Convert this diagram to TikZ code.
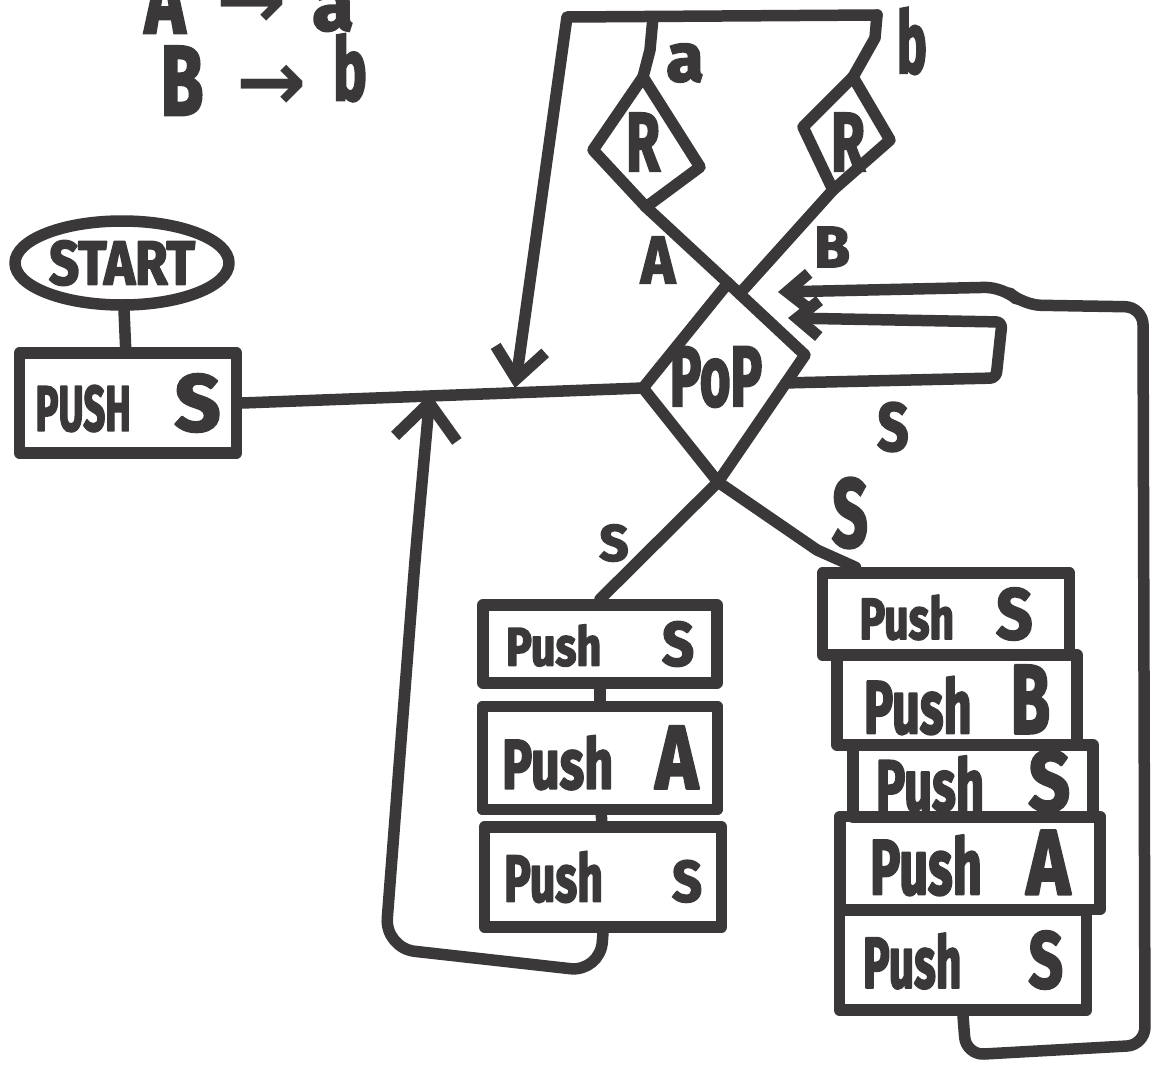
\documentclass[tikz,border=0pt]{standalone}
\usepackage{fontspec}
\usepackage{graphicx}
\setmainfont{Fira Sans}[BoldFeatures={FakeBold=3}]
\newfontfamily\arrfont{DejaVu Sans}
\usetikzlibrary{arrows.meta,shapes.geometric,calc}
\definecolor{ink}{RGB}{58,56,56}
\newcommand{\nar}[2][0.75]{\scalebox{#1}[1]{#2}}
\newcommand{\btext}[3]{\makebox[#1]{#2\hfill#3}}
\newcommand{\hwt}[3]{{\fontsize{#1}{#1}\selectfont\bfseries\scalebox{#2}[1]{#3}}}
\begin{document}
\begin{tikzpicture}[x=1pt,y=-1pt,
  ln/.style={draw=ink, line width=11.5pt, line cap=round, line join=round},
  hw/.style={text=ink, inner sep=0pt},
  pbox/.style={ln, rectangle, inner sep=0pt, text=ink},
  tipbig/.style={-{Straight Barb[length=36pt,width=62pt]}},
  tipmid/.style={-{Straight Barb[length=30pt,width=50pt]}},
  tipsm/.style={-{Straight Barb[length=22pt,width=36pt]}},
]
\useasboundingbox (0,0) rectangle (1162,1076);
\fill[white] (0,0) rectangle (1162,1076);

% ---- heading rules
\node[hw, anchor=base] (hA) at (165,33) {\hwt{95}{0.72}{A}};
\node[hw] (harA) at (252,6) {\fontsize{84}{84}\selectfont\arrfont\bfseries →};
\node[hw, anchor=base] (ha) at (333,30) {\hwt{75}{1}{a}};
\node[hw, anchor=base] (hB) at (182,115) {\hwt{99}{0.7}{B}};
\node[hw] (harB) at (272,88) {\fontsize{84}{84}\selectfont\arrfont\bfseries →};
\node[hw, anchor=base] (hb) at (350,100) {\hwt{87}{0.65}{b}};

% ---- start
\node[ln, ellipse, minimum width=214pt, minimum height=84pt, inner sep=0pt, text=ink] (start) at (122,263) {\hwt{62}{0.85}{START}};
\node[pbox, minimum width=217pt, minimum height=100pt] (p0) at (128,403)
  {\btext{185pt}{\hwt{64}{0.6}{PUSH}}{\hwt{80}{1}{S}}};
\draw[ln] (start) -- (p0);

% ---- POP diamond
\coordinate (popT) at (728,283);
\coordinate (popR) at (805,355);
\coordinate (popB) at (718,482);
\coordinate (popL) at (643,388);
\draw[ln] (popT) -- (popR) -- (popB) -- (popL) -- cycle;
\node[hw] (pop) at (716,377) {\hwt{85}{0.62}{PoP}};

% ---- main line
\draw[ln] (p0.east) -- (popL);
\coordinate (jdown) at (515,388);
\coordinate (jup) at (430,394);

% ---- top frame and R diamonds
\coordinate (tl) at (567,17);
\coordinate (ta) at (653,17);
\coordinate (tr) at (877,15);
\draw[ln, tipmid] (tr) -- (tl) -- (jdown);

\coordinate (rLt) at (643,77);
\coordinate (rLl) at (593,150);
\coordinate (rLb) at (646,207);
\coordinate (rLr) at (700,167);
\draw[ln] (rLt) -- (rLl) -- (rLb) -- (rLr) -- cycle;
\node[hw] (rL) at (643,142) {\hwt{83}{0.66}{R}};

\coordinate (rRt) at (853,77);
\coordinate (rRl) at (803,127);
\coordinate (rRb) at (833,190);
\coordinate (rRr) at (890,140);
\draw[ln] (rRt) -- (rRl) -- (rRb) -- (rRr) -- cycle;
\node[hw] (rR) at (848,142) {\hwt{83}{0.66}{R}};

\draw[ln] (ta) -- (650,50) -- (rLt);
\draw[ln] (tr) -- (875,38) -- (rRt);
\node[hw] (la) at (685,63) {\hwt{68}{1}{a}};
\node[hw] (lb) at (912,41) {\hwt{86}{0.58}{b}};

\draw[ln] (rLb) -- (popT);
\draw[ln] (rRb) -- ($(popT)!0.15!(popR)$);
\node[hw] (lA) at (658,260) {\hwt{67}{0.86}{A}};
\node[hw] (lB) at (832,247) {\hwt{58}{1}{B}};

% ---- left stack
\node[pbox, minimum width=234pt, minimum height=78pt] (l1) at (600,644)
  {\btext{188pt}{\hwt{54}{0.8}{Push}}{\hwt{62}{0.9}{S}}};
\node[pbox, minimum width=235pt, minimum height=103pt] (l2) at (600,758)
  {\btext{196pt}{\hwt{70}{0.72}{Push}}{\hwt{90}{0.8}{A}}};
\node[pbox, minimum width=237pt, minimum height=100pt] (l3) at (603,877)
  {\btext{198pt}{\hwt{66}{0.68}{Push}}{\hwt{58}{0.9}{S}}};
\draw[ln] (l1) -- (l2);
\draw[ln] (l2) -- (l3);

% ---- right stack
\node[pbox, minimum width=247pt, minimum height=82pt] (r1) at (946,614)
  {\btext{173pt}{\hwt{58}{0.74}{Push}}{\hwt{72}{0.88}{S}}};
\node[pbox, minimum width=240pt, minimum height=90pt] (r2) at (957,700)
  {\btext{186pt}{\hwt{75}{0.65}{Push}}{\hwt{98}{0.65}{B}}};
\node[pbox, minimum width=240pt, minimum height=72pt] (r3) at (973,781)
  {\btext{194pt}{\hwt{72}{0.68}{Push}}{\hwt{85}{0.85}{S}}};
\node[pbox, minimum width=260pt, minimum height=93pt] (r4) at (970,863)
  {\btext{200pt}{\hwt{78}{0.65}{Push}}{\hwt{92}{0.8}{A}}};
\node[pbox, minimum width=247pt, minimum height=100pt] (r5) at (963,960)
  {\btext{200pt}{\hwt{72}{0.62}{Push}}{\hwt{80}{0.75}{S}}};

% ---- branches from POP bottom
\draw[ln] (popB) -- (l1.north);
\draw[ln] (popB) -- (817,550) -- ($(r1.north west)!0.15!(r1.north east)$);
\node[hw] (sL) at (614,543) {\hwt{51}{1}{S}};
\node[hw] (sR) at (850,513) {\hwt{97}{0.64}{S}};
\node[hw] (sM) at (893,427) {\hwt{68}{0.8}{S}};

% ---- loops back
\draw[ln, tipbig, rounded corners=30pt] (l3.south) -- (600,972) -- (385,948) -- (415,560) -- (jup);
\coordinate (bigtip) at (778,292);
\coordinate (smalltip) at (788,318);
\coordinate (smallstart) at ($(popR)!0.22!(popB)$);
\draw[ln, tipsm, rounded corners=18pt] (r5.south) -- (966,1055) -- (1145,1045) -- (1143,307) -- (1023,305) -- (1003,287) -- (bigtip);
\draw[ln, tipsm, rounded corners=6pt] (smallstart) -- (996,378) -- (1002,322) -- (smalltip);
\end{tikzpicture}
\end{document}
